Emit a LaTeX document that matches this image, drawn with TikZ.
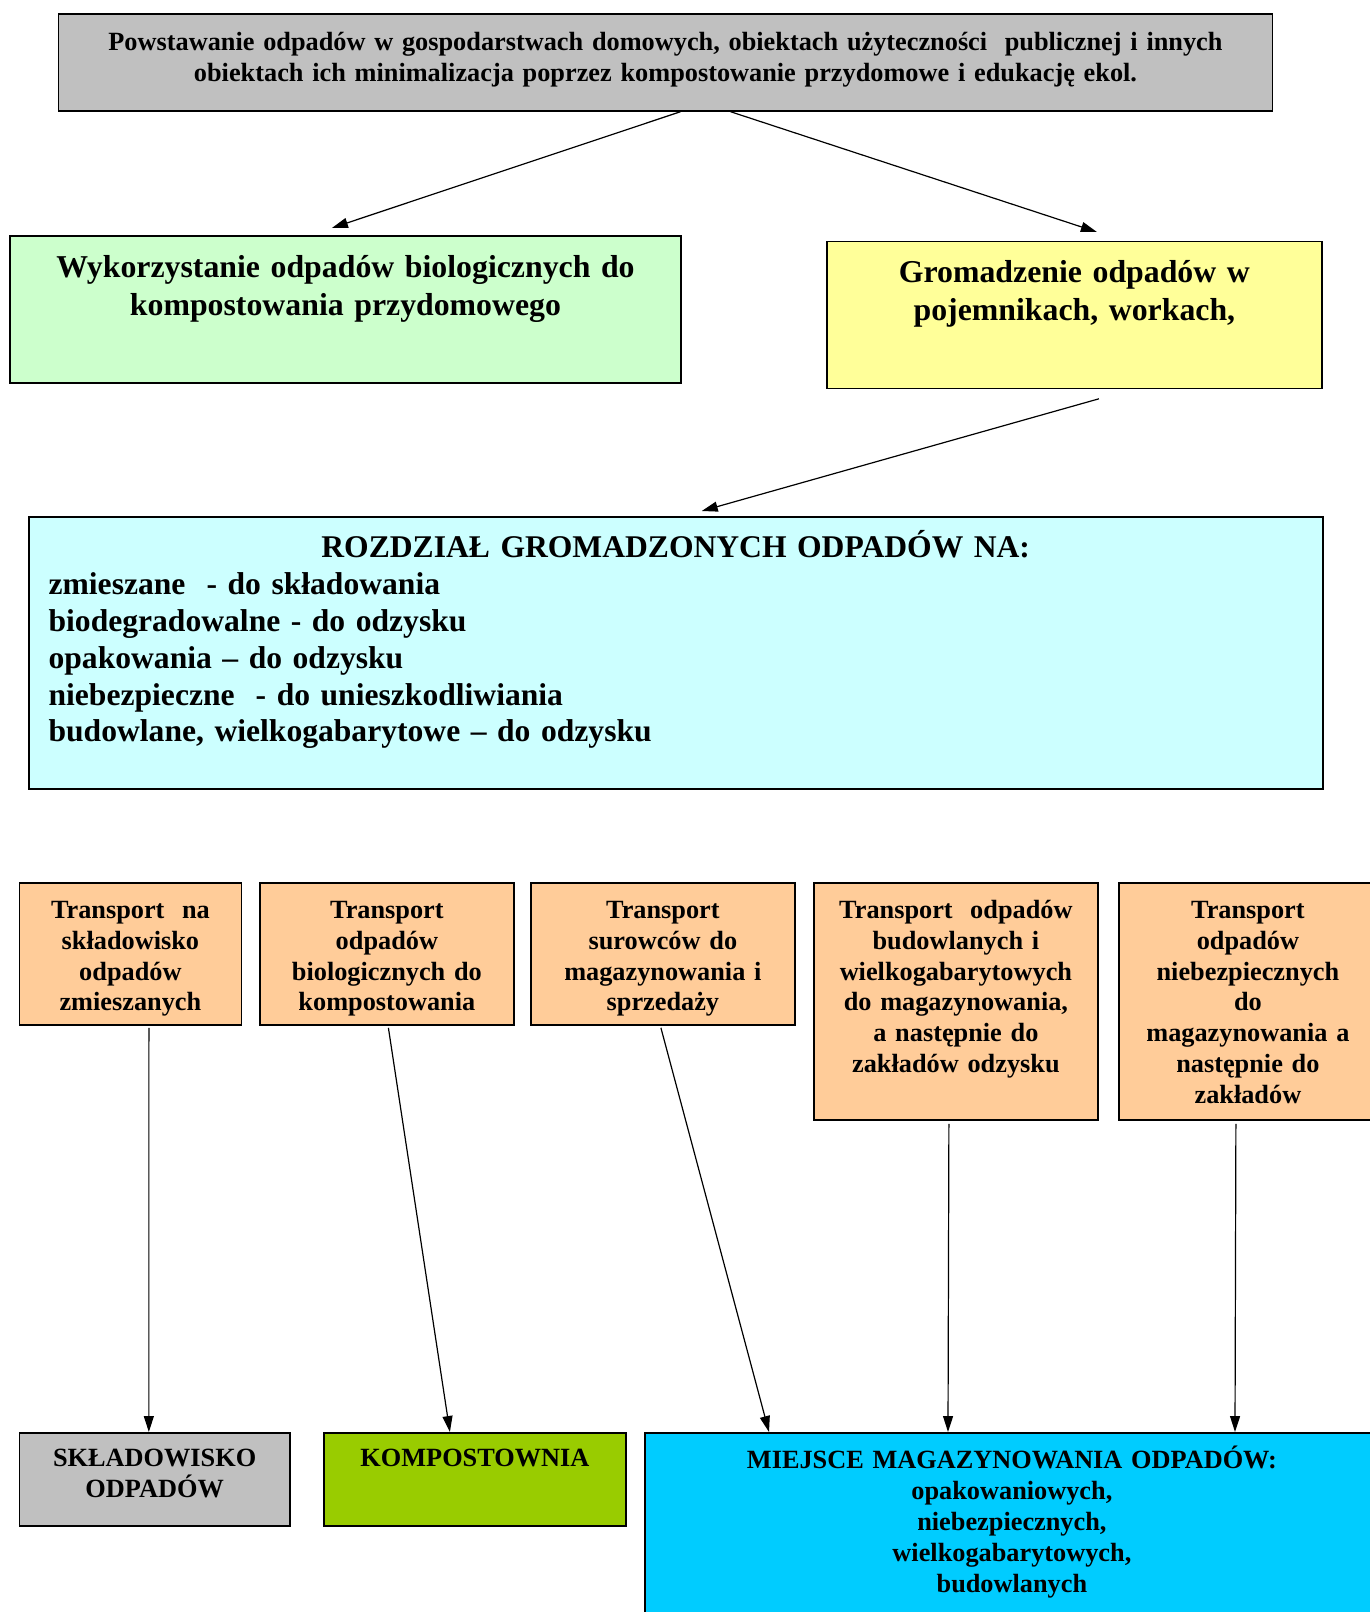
\documentclass[tikz,border=0pt]{standalone}
\usepackage{fontspec}
\setmainfont{Liberation Serif}
\usepackage{tikz}
\usetikzlibrary{arrows.meta}
\definecolor{sourcegray}{HTML}{C0C0C0}
\definecolor{biogreen}{HTML}{CCFFCC}
\definecolor{collectyellow}{HTML}{FFFF99}
\definecolor{splitcyan}{HTML}{CCFFFF}
\definecolor{transportorange}{HTML}{FFCC99}
\definecolor{compostgreen}{HTML}{99CC00}
\definecolor{storageblue}{HTML}{00CCFF}

\begin{document}
\begin{tikzpicture}[
        x=1pt, y=-1pt,
        every node/.style={font=\bfseries\fontsize{26.3}{30.8}\selectfont},
        bigtext/.style={font=\bfseries\fontsize{31.8}{38}\selectfont},
        box/.style={rectangle, draw, line width=1.8pt, anchor=north west, align=center, inner xsep=4pt, inner ysep=0pt, text height=36.5pt},
        source/.style={box, fill=sourcegray},
        bio/.style={box, bigtext, fill=biogreen, text height=41.5pt, text depth=105.5pt},
        collect/.style={box, bigtext, fill=collectyellow, text height=41pt, text depth=106pt},
        split/.style={box, font=\bfseries\fontsize{31.6}{36.8}\selectfont, fill=splitcyan, align=left, inner xsep=20pt, text height=41pt, text depth=231pt},
        transport/.style={box, fill=transportorange, text height=35.6pt, text depth=106.4pt},
        tallbox/.style={transport, text depth=201.4pt},
        landfill/.style={box, fill=sourcegray, text height=34pt, text depth=59pt},
        compost/.style={box, fill=compostgreen, text height=34pt, text depth=59pt},
        storage/.style={box, fill=storageblue, text height=36pt, text depth=200pt},
        edge/.style={-{Triangle[length=16pt, width=10pt]}, line width=1.2pt}
    ]
        \useasboundingbox (0,0) rectangle (1369,1612);
        % Source of waste
        \node[source, text width=1206pt, text depth=60pt] (source) at (57.6,13.4) {Powstawanie odpadów w gospodarstwach domowych, obiektach użyteczności\ \ publicznej i innych\\obiektach ich minimalizacja poprzez kompostowanie przydomowe i edukację ekol.};
        % Second level
        \node[bio, text width=662.8pt] (bio) at (9.2,235) {Wykorzystanie odpadów biologicznych do\\kompostowania przydomowego};
        \node[collect, text width=487pt] (collect) at (826,240.5) {Gromadzenie odpadów w\\pojemnikach, workach,};
        % Sorting
        \node[split, text width=1254.3pt] (split) at (27.7,516) {\makebox[1254.3pt]{ROZDZIAŁ GROMADZONYCH ODPADÓW NA:}\\zmieszane\ \ - do składowania\\biodegradowalne - do odzysku\\opakowania -- do odzysku\\niebezpieczne\ \ - do unieszkodliwiania\\budowlane, wielkogabarytowe -- do odzysku};
        % Transport row
        \node[transport, text width=214pt] (mixed) at (18.5,882) {Transport\ \ na\\składowisko\\odpadów\\zmieszanych};
        \node[transport, text width=246pt] (biotr) at (259,882) {Transport\\odpadów\\biologicznych do\\kompostowania};
        \node[transport, text width=256pt] (raw) at (530,882) {Transport\\surowców do\\magazynowania i\\sprzedaży};
        \node[tallbox, text width=276pt] (bulky) at (813,882) {Transport\ \ odpadów\\budowlanych i\\wielkogabarytowych\\do magazynowania,\\a następnie do\\zakładów odzysku};
        \node[tallbox, text width=250pt] (hazard) at (1118,882) {Transport\\odpadów\\niebezpiecznych\\do\\magazynowania a\\następnie do\\zakładów};
        % Destinations
        \node[landfill, text width=262.5pt] (landfill) at (18.5,1432) {SKŁADOWISKO\\ODPADÓW};
        \node[compost, text width=294pt] (compost) at (323,1432) {KOMPOSTOWNIA};
        \node[storage, text width=726pt] (storage) at (644,1432) {MIEJSCE MAGAZYNOWANIA ODPADÓW:\\opakowaniowych,\\niebezpiecznych,\\wielkogabarytowych,\\budowlanych};
        % Edges: top part
        \draw[edge] ([xshift=15pt]source.south) -- ([xshift=-13.6pt, yshift=7pt]bio.north);
        \draw[edge] ([xshift=65pt]source.south) -- ([xshift=22.5pt, yshift=8.5pt]collect.north);
        \draw[edge] ([xshift=24.5pt, yshift=-9.5pt]collect.south) -- ([xshift=26pt, yshift=5pt]split.north);
        % Edges: transport to destinations
        \draw[edge] ([xshift=18.5pt, yshift=-2pt]mixed.south) -- ([xshift=-5.8pt]landfill.north);
        \draw[edge] ([xshift=1.5pt, yshift=-2pt]biotr.south) -- ([xshift=-25pt]compost.north);
        \draw[edge] ([xshift=-2pt, yshift=-2pt]raw.south) -- ([xshift=125pt]storage.north west);
        \draw[edge] ([xshift=-7pt, yshift=-3pt]bulky.south) -- ([xshift=304pt]storage.north west);
        \draw[edge] ([xshift=-12pt, yshift=-3pt]hazard.south) -- ([xshift=591pt]storage.north west);
    \end{tikzpicture}
\end{document}
